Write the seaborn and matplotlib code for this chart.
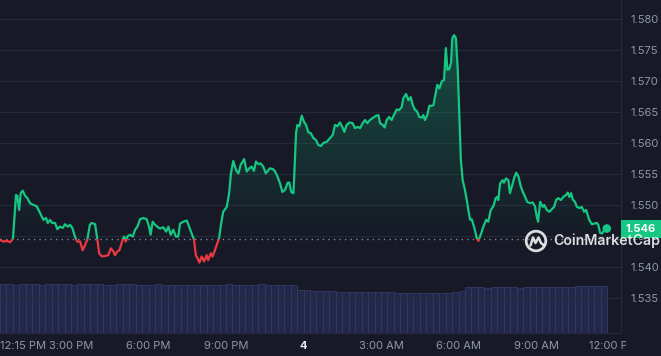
"""
Recreation of a CoinMarketCap style 1D price chart (dark theme).
"""
import numpy as np
import matplotlib
matplotlib.use("Agg")  # no display
import matplotlib.pyplot as plt
from matplotlib.colors import LinearSegmentedColormap
from matplotlib.lines import Line2D
from matplotlib.patches import Rectangle, Circle
from matplotlib.path import Path
from matplotlib.transforms import Bbox, TransformedBbox, blended_transform_factory
import seaborn as sns

# ------------------------------------------------------------
# Data (hours after 12:15 PM, price in USD)
# ------------------------------------------------------------
hours = [
    0.00, 0.12, 0.27, 0.39, 0.50, 0.62, 0.67, 0.74, 0.80, 0.88, 0.97, 1.06, 1.16, 1.29,
    1.42, 1.55, 1.68, 1.78, 1.85, 1.94, 2.02, 2.13, 2.22, 2.32, 2.43, 2.52, 2.62, 2.71,
    2.80, 2.90, 2.99, 3.10, 3.20, 3.29, 3.38, 3.48, 3.55, 3.68, 3.77, 3.84, 3.94, 4.10,
    4.19, 4.29, 4.39, 4.45, 4.54, 4.62, 4.68, 4.75, 4.80, 4.87, 4.93, 5.03, 5.14, 5.23,
    5.32, 5.42, 5.55, 5.68, 5.77, 5.83, 5.91, 6.00, 6.09, 6.19, 6.32, 6.43, 6.52, 6.61,
    6.71, 6.81, 6.90, 6.97, 7.10, 7.23, 7.32, 7.42, 7.51, 7.58, 7.65, 7.72, 7.81, 7.90,
    8.00, 8.06, 8.16, 8.23, 8.32, 8.41, 8.48, 8.56, 8.64, 8.78, 8.87, 8.94, 9.03, 9.14,
    9.23, 9.32, 9.45, 9.55, 9.65, 9.74, 9.83, 9.91, 10.00, 10.09, 10.19, 10.29, 10.39,
    10.45, 10.56, 10.65, 10.74, 10.84, 10.93, 11.03, 11.14, 11.20, 11.27, 11.36, 11.39,
    11.46, 11.51, 11.59, 11.68, 11.77, 11.85, 11.94, 12.03, 12.13, 12.23, 12.32, 12.42,
    12.52, 12.65, 12.78, 12.88, 12.97, 13.06, 13.16, 13.25, 13.33, 13.42, 13.52, 13.65,
    13.74, 13.85, 13.94, 14.04, 14.13, 14.22, 14.32, 14.45, 14.56, 14.65, 14.71, 14.82,
    14.89, 14.97, 15.06, 15.16, 15.25, 15.36, 15.45, 15.55, 15.61, 15.72, 15.81, 15.90,
    15.98, 16.07, 16.13, 16.23, 16.33, 16.39, 16.45, 16.54, 16.62, 16.71, 16.78, 16.84,
    16.93, 17.01, 17.10, 17.19, 17.26, 17.32, 17.39, 17.46, 17.51, 17.58, 17.65, 17.72,
    17.78, 17.84, 17.91, 18.00, 18.09, 18.13, 18.20, 18.26, 18.35, 18.46, 18.52, 18.61,
    18.71, 18.82, 18.90, 19.00, 19.10, 19.19, 19.25, 19.29, 19.36, 19.46, 19.51, 19.59,
    19.68, 19.74, 19.83, 19.90, 19.98, 20.07, 20.16, 20.24, 20.33, 20.41, 20.52, 20.62,
    20.71, 20.78, 20.83, 20.91, 21.01, 21.07, 21.17, 21.27, 21.36, 21.45, 21.53, 21.61,
    21.71, 21.81, 21.91, 21.98, 22.04, 22.11, 22.17, 22.26, 22.33, 22.43, 22.52, 22.61,
    22.69, 22.74, 22.81, 22.91, 23.00, 23.10, 23.16, 23.23, 23.31, 23.38, 23.49,
]
prices = [
    1.5444, 1.5441, 1.5442, 1.5440, 1.5445, 1.5516, 1.5515, 1.5492, 1.5519, 1.5523, 1.5515, 1.5511, 1.5503, 1.5500,
    1.5498, 1.5487, 1.5476, 1.5479, 1.5471, 1.5476, 1.5471, 1.5471, 1.5461, 1.5465, 1.5463, 1.5469, 1.5465, 1.5468,
    1.5463, 1.5449, 1.5441, 1.5441, 1.5427, 1.5435, 1.5444, 1.5468, 1.5471, 1.5469, 1.5444, 1.5422, 1.5417, 1.5418,
    1.5419, 1.5430, 1.5425, 1.5419, 1.5425, 1.5427, 1.5435, 1.5444, 1.5449, 1.5441, 1.5449, 1.5452, 1.5449, 1.5460,
    1.5465, 1.5477, 1.5479, 1.5477, 1.5465, 1.5452, 1.5473, 1.5468, 1.5465, 1.5462, 1.5464, 1.5457, 1.5465, 1.5452,
    1.5460, 1.5449, 1.5449, 1.5470, 1.5473, 1.5475, 1.5465, 1.5454, 1.5444, 1.5419, 1.5414, 1.5407, 1.5417, 1.5409,
    1.5419, 1.5411, 1.5422, 1.5417, 1.5427, 1.5438, 1.5446, 1.5470, 1.5489, 1.5497, 1.5519, 1.5551, 1.5571, 1.5556,
    1.5551, 1.5565, 1.5574, 1.5554, 1.5559, 1.5562, 1.5555, 1.5570, 1.5566, 1.5567, 1.5562, 1.5551, 1.5556,
    1.5559, 1.5558, 1.5554, 1.5546, 1.5535, 1.5521, 1.5524, 1.5536, 1.5536, 1.5521, 1.5519, 1.5546,
    1.5616, 1.5629, 1.5627, 1.5644, 1.5634, 1.5629, 1.5617, 1.5616, 1.5608, 1.5605, 1.5597, 1.5595,
    1.5600, 1.5602, 1.5608, 1.5613, 1.5629, 1.5627, 1.5633, 1.5626, 1.5618, 1.5629, 1.5633, 1.5632,
    1.5624, 1.5626, 1.5624, 1.5632, 1.5637, 1.5632, 1.5637, 1.5641, 1.5644, 1.5645, 1.5632, 1.5629,
    1.5625, 1.5637, 1.5642, 1.5637, 1.5645, 1.5654, 1.5653, 1.5658, 1.5672, 1.5679, 1.5669, 1.5674,
    1.5661, 1.5653, 1.5652, 1.5642, 1.5641, 1.5645, 1.5637, 1.5645, 1.5660, 1.5660, 1.5661, 1.5675,
    1.5694, 1.5688, 1.5699, 1.5702, 1.5753, 1.5718, 1.5719, 1.5729, 1.5769, 1.5774, 1.5769, 1.5718,
    1.5648, 1.5573, 1.5540, 1.5524, 1.5503, 1.5492, 1.5476, 1.5477, 1.5465, 1.5446, 1.5442, 1.5452,
    1.5465, 1.5476, 1.5473, 1.5492, 1.5498, 1.5511, 1.5513, 1.5508, 1.5535, 1.5540, 1.5536, 1.5543,
    1.5540, 1.5519, 1.5532, 1.5543, 1.5552, 1.5546, 1.5530, 1.5521, 1.5513, 1.5505, 1.5503, 1.5504,
    1.5498, 1.5481, 1.5473, 1.5505, 1.5497, 1.5500, 1.5492, 1.5489, 1.5493, 1.5497, 1.5508, 1.5511,
    1.5508, 1.5513, 1.5516, 1.5520, 1.5513, 1.5519, 1.5509, 1.5505, 1.5497, 1.5495, 1.5497, 1.5489,
    1.5492, 1.5485, 1.5476, 1.5469, 1.5470, 1.5471, 1.5468, 1.5455, 1.5454, 1.5459, 1.5462,
]
open_price = 1.5445

# 15-minute volume bars (millions)
volume = [
    4.9, 4.9, 4.8, 4.9, 4.9, 4.9, 4.8, 4.9, 4.9, 4.9,
    4.9, 4.8, 4.9, 4.9, 4.9, 4.9, 4.8, 4.8, 4.9, 4.9,
    4.9, 4.8, 4.8, 4.8, 4.9, 4.8, 4.8, 4.8, 4.8, 4.8,
    4.8, 4.8, 4.8, 4.8, 4.8, 4.9, 4.8, 4.8, 4.8, 4.8,
    4.9, 4.8, 4.8, 4.8, 4.8, 4.8,
    4.3, 4.3, 4.2, 4.2, 4.2, 4.2, 4.1, 4.1, 4.1, 4.1,
    4.1, 4.1, 4.1, 4.1, 4.1, 4.0, 4.0, 4.0, 4.0, 4.0,
    4.0, 4.0, 4.0, 4.0, 4.1, 4.2,
    4.6, 4.6, 4.6, 4.5, 4.6, 4.6, 4.6, 4.6, 4.5, 4.6,
    4.6, 4.6, 4.6, 4.6, 4.6, 4.6, 4.6, 4.7, 4.7, 4.7,
    4.7, 4.7,
]
vol_hours = np.arange(len(volume)) * 0.25 + 0.125

y_ticks = [1.535, 1.540, 1.545, 1.550, 1.555, 1.560, 1.565, 1.570, 1.575, 1.580]
x_tick_hours = [0.0, 2.75, 5.75, 8.75, 11.75, 14.75, 17.75, 20.75, 23.75]
x_tick_labels = ["12:15 PM", "3:00 PM", "6:00 PM", "9:00 PM", "4",
                 "3:00 AM", "6:00 AM", "9:00 AM", "12:00 PM"]

# ------------------------------------------------------------
# Styling
# ------------------------------------------------------------
BG = "#171a26"
GRID = "#252a39"
GREEN = "#16c784"
RED = "#ea3943"
TEXT = "#9097a9"
VOL = "#23274a"
VOL_EDGE = "#343a68"

sns.set_theme(style="dark", rc={"axes.facecolor": BG, "figure.facecolor": BG})
plt.rcParams["font.family"] = ["Inter", "DejaVu Sans"]

W, H = 661, 356
fig = plt.figure(figsize=(W / 100, H / 100), dpi=100, facecolor=BG)
pos = [0, 23 / H, 621 / W, 333 / H]

# volume axes underneath
vax = fig.add_axes(pos)
vax.bar(vol_hours, volume, width=0.25, color=VOL, edgecolor=VOL_EDGE, linewidth=0.6)
vax.set_xlim(0, 24.04)
vax.set_ylim(0, 33.3)
vax.set_facecolor(BG)
vax.axis("off")

# price axes on top
ax = fig.add_axes(pos)
ax.patch.set_alpha(0)
ymin, ymax = 1.52935, 1.58306

# gradient fill above open price
fill = ax.fill_between(hours, prices, open_price,
                       where=np.array(prices) >= open_price, interpolate=True,
                       facecolor="none", edgecolor="none")
clip = Path.make_compound_path(*fill.get_paths())
cmap = LinearSegmentedColormap.from_list(
    "g", [(0.086, 0.78, 0.52, 0.0), (0.086, 0.78, 0.52, 0.32)])
grad = np.linspace(0, 1, 256).reshape(-1, 1)
im = ax.imshow(grad, extent=[0, 24.04, open_price, max(prices)], origin="lower",
               aspect="auto", cmap=cmap, zorder=1, interpolation="bicubic")
im.set_clip_path(clip, ax.transData)

# price line, green above the open, red below
sns.lineplot(x=hours, y=prices, ax=ax, color=GREEN, linewidth=1.6, sort=False, zorder=3)
sns.lineplot(x=hours, y=prices, ax=ax, color=RED, linewidth=1.6, sort=False, zorder=3)
green_line, red_line = ax.lines[-2], ax.lines[-1]
green_line.set_clip_path(Rectangle((-1, open_price), 30, 1, transform=ax.transData))
red_line.set_clip_path(Rectangle((-1, open_price - 1), 30, 1, transform=ax.transData))

# open price reference
ax.axhline(open_price, color="#9aa0b3", linewidth=1.0, linestyle=(0, (1, 3)), alpha=0.8, zorder=2)

# last point marker
ax.scatter([hours[-1]], [prices[-1]], s=38, color=GREEN, zorder=5, edgecolors="none")

ax.set_xlim(0, 24.04)
ax.set_ylim(ymin, ymax)

# y axis on the right
ax.yaxis.tick_right()
ax.set_yticks(y_ticks)
ax.set_yticklabels([f"{v:.3f}" for v in y_ticks])
ax.tick_params(axis="y", length=0, pad=7, labelcolor=TEXT, labelsize=8)
ax.grid(axis="y", color=GRID, linewidth=0.8)
ax.grid(axis="x", visible=False)
ax.set_xticks([])
ax.set_xlabel("")
ax.set_ylabel("")
for side in ["top", "left"]:
    ax.spines[side].set_visible(False)
for side in ["bottom", "right"]:
    ax.spines[side].set_visible(True)
    ax.spines[side].set_color(GRID)
    ax.spines[side].set_linewidth(0.8)

# x labels (last one is cut by the price scale)
clip_box = TransformedBbox(Bbox([[0, 0], [626 / W, 1]]), fig.transFigure)
xform = ax.get_xaxis_transform()
for h, lab in zip(x_tick_hours, x_tick_labels):
    t = ax.text(h, -13 / 333, lab, transform=xform, va="center",
                ha="left" if h == 0 else "center", fontsize=8,
                color="#e6e8ee" if lab == "4" else TEXT,
                fontweight="bold" if lab == "4" else "normal")
    t.set_clip_on(True)
    t.set_clip_box(clip_box)

# last price tag
tag = blended_transform_factory(ax.transAxes, ax.transData)
ax.add_patch(Rectangle((1.0, prices[-1] - 0.00145), 40 / 621, 0.0029, transform=tag,
                       facecolor=GREEN, edgecolor="none", clip_on=False, zorder=6))
ax.text(1.0 + 20 / 621, prices[-1], f"{prices[-1]:.3f}", transform=tag, ha="center",
        va="center", fontsize=8, fontweight="bold", color="white", zorder=7)

# watermark (logo + name)
wm_x, wm_y = 5.36, (H - 241) / 100  # inches
fig.text(5.53 / (W / 100), wm_y / (H / 100), "CoinMarketCap", ha="left", va="center",
         fontsize=10.2, fontweight="semibold", color="white", alpha=0.85, zorder=8)
fig.patches.append(Circle((wm_x, wm_y), 0.098, transform=fig.dpi_scale_trans,
                          fill=False, edgecolor="white", alpha=0.85, linewidth=2.0))
fig.lines.append(Line2D([wm_x - 0.055, wm_x - 0.03, wm_x - 0.005, wm_x + 0.025, wm_x + 0.05, wm_x + 0.075],
                        [wm_y - 0.045, wm_y + 0.035, wm_y - 0.02, wm_y + 0.035, wm_y - 0.02, wm_y - 0.04],
                        transform=fig.dpi_scale_trans, color="white", alpha=0.85,
                        linewidth=1.8, solid_capstyle="round", solid_joinstyle="round"))

fig.savefig("out.png", dpi=100, facecolor=BG)
